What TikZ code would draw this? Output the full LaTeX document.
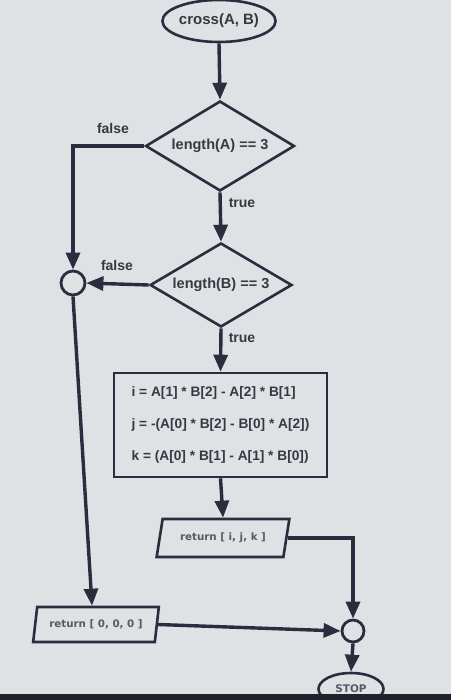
\documentclass[tikz,border=0pt]{standalone}
\usepackage{fontspec}
\setmainfont{Liberation Sans}
\newfontfamily\dvfont{DejaVu Sans}
\usetikzlibrary{shapes.geometric,arrows.meta}
\definecolor{bg}{RGB}{224,225,228}
\definecolor{ln}{RGB}{42,45,62}
\definecolor{tx}{RGB}{55,56,66}
\definecolor{txb}{RGB}{88,89,99}
\definecolor{strip}{RGB}{30,34,44}
\begin{document}
\begin{tikzpicture}[x=1pt,y=-1pt,
  shp/.style={draw=ln, line width=2.6pt, fill=bg, inner sep=0pt, text=tx,
    font=\bfseries\fontsize{14.5}{16}\selectfont},
  flow/.style={draw=ln, line width=3.4pt, -{Triangle[length=17pt,width=14pt]}},
  lbl/.style={text=tx, inner sep=0pt, font=\bfseries\fontsize{14}{16}\selectfont},
  io/.style={shp, trapezium, trapezium stretches=true, text=txb,
    font=\dvfont\bfseries\fontsize{10.3}{12}\selectfont},
  junction/.style={draw=ln, line width=2.8pt, fill=bg, circle, inner sep=0pt}
]
\useasboundingbox (0,0) rectangle (451,700);
\fill[bg] (0,0) rectangle (451,700);

% nodes
\node[shp, ellipse, minimum width=104pt, minimum height=42pt,
  font=\bfseries\fontsize{15}{16}\selectfont] (start) at (219,21) {cross(A, B)};
\node[shp, diamond, aspect=1.65, minimum width=149pt, minimum height=90pt] (d1) at (220,146) {length(A) == 3};
\node[shp, diamond, aspect=1.69, minimum width=142pt, minimum height=84pt] (d2) at (221,285) {length(B) == 3};
\node[junction, minimum size=24pt] (c1) at (73,283) {};
\node[shp, rectangle, minimum width=213pt, minimum height=104pt, align=left,
  font=\bfseries\fontsize{13.7}{32}\selectfont] (calc) at (220.5,425)
  {i = A[1] * B[2] - A[2] * B[1]\\ j = -(A[0] * B[2] - B[0] * A[2])\\ k = (A[0] * B[1] - A[1] * B[0])};
\node[io, trapezium left angle=67, trapezium right angle=113,
  minimum width=134pt, minimum height=38pt] (ret1) at (223,538) {return [ i, j, k ]};
\node[io, trapezium left angle=71, trapezium right angle=109,
  minimum width=126pt, minimum height=35pt] (ret0) at (96,624.5) {return [ 0, 0, 0 ]};
\node[junction, minimum size=22pt] (c2) at (353,631) {};
\node[shp, ellipse, minimum width=65pt, minimum height=32pt, text=txb,
  font=\dvfont\bfseries\fontsize{10.5}{12}\selectfont] (stop) at (351,689) {STOP};

% connectors
\draw[flow] (start.south) -- (d1.north);
\draw[flow] (d1.west) -| (c1.north);
\draw[flow] (d1.south) -- (d2.north);
\draw[flow] (d2.west) -- (c1.east);
\draw[flow] (d2.south) -- (calc.north);
\draw[flow] (calc.south) -- (ret1.north);
\draw[flow] (ret1.east) -| (c2.north);
\draw[flow] (c1.south) -- ([xshift=-4pt]ret0.north);
\draw[flow] (ret0.east) -- (c2.west);
\draw[flow] (c2.south) -- (stop.north);

% labels
\node[lbl] (f1) at (113,128) {false};
\node[lbl] (t1) at (242,203) {true};
\node[lbl] (f2) at (117,265) {false};
\node[lbl] (t2) at (242,338) {true};

\fill[strip] (0,694) rectangle (451,700);
\end{tikzpicture}
\end{document}
